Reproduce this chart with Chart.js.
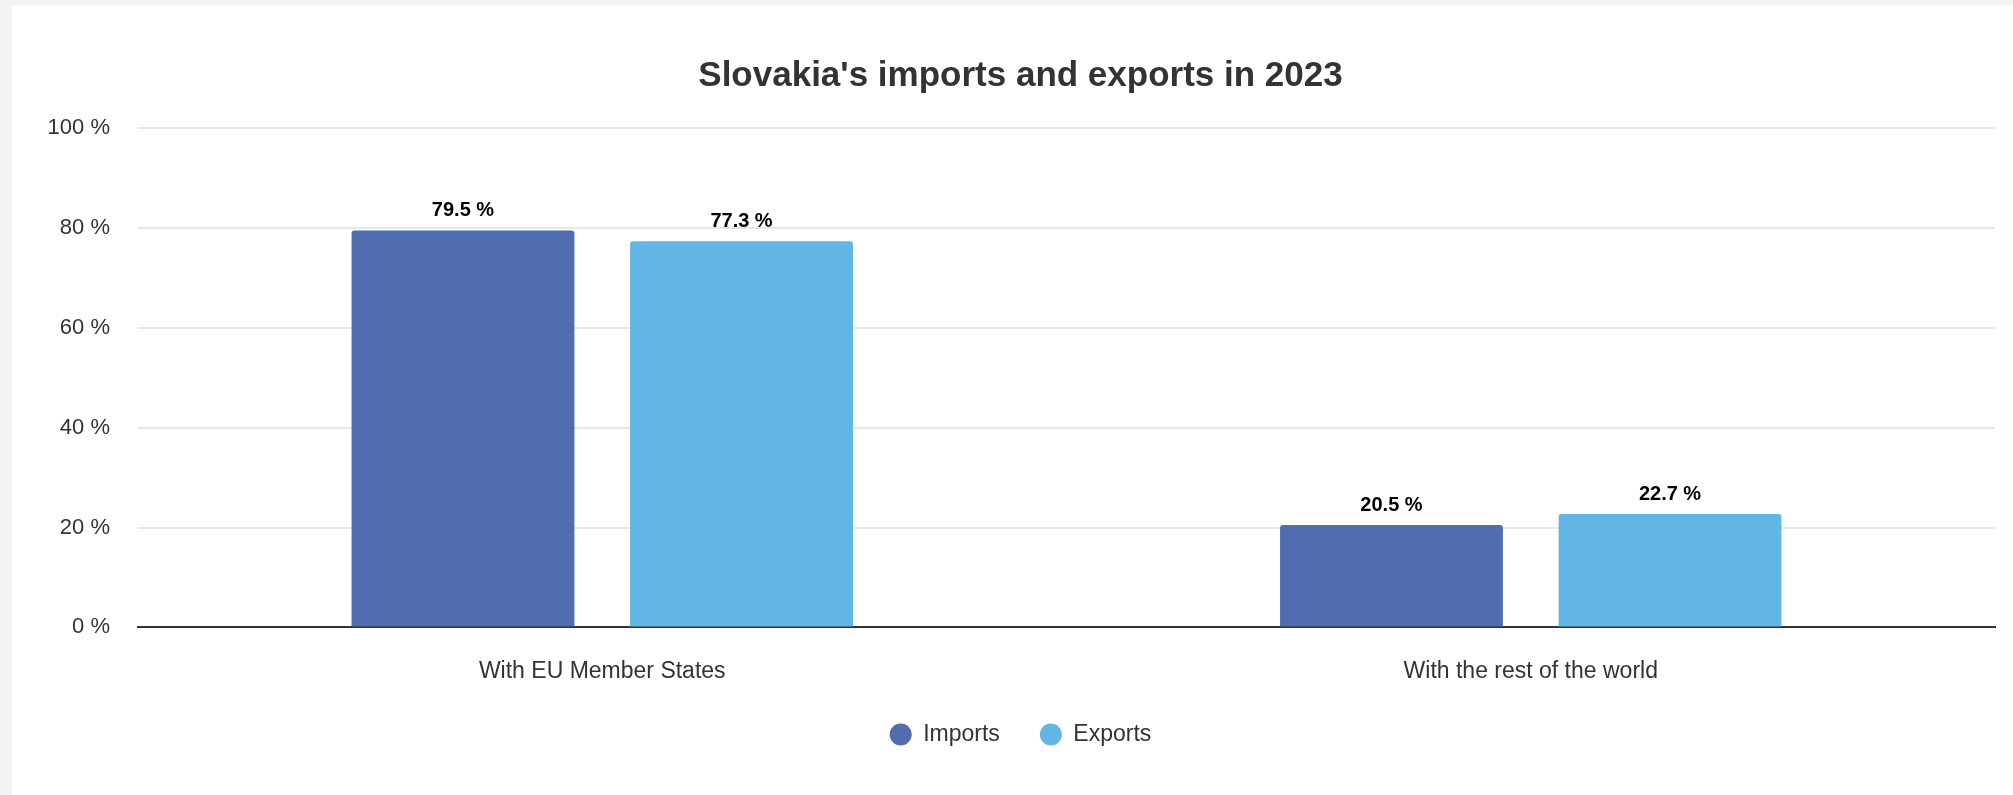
<!DOCTYPE html>
<html>
<head>
<meta charset="utf-8">
<script src="https://cdn.jsdelivr.net/npm/chart.js@4"></script>
<style>
  html, body { margin: 0; padding: 0; background: #f2f2f2; overflow: hidden; }
  .tarjeta { position: absolute; left: 12px; top: 5px; width: 2001px; height: 800px; background: #fff; }
  .lienzo { position: absolute; left: 14px; top: 0; width: 1987px; height: 790px; }
</style>
</head>
<body>
<div class="tarjeta">
  <div class="lienzo"><canvas id="graficoComercio"></canvas></div>
</div>
<script>
const categorias = ['With EU Member States', 'With the rest of the world'];
const importaciones = [79.5, 20.5];
const exportaciones = [77.3, 22.7];
const ticksY = [0, 20, 40, 60, 80, 100];

const fuente = "'Liberation Sans', Arial, Helvetica, sans-serif";

// Etiqueta con el valor encima de cada barra
const etiquetasValor = {
  id: 'etiquetasValor',
  afterDatasetsDraw(chart) {
    const ctx = chart.ctx;
    ctx.save();
    ctx.font = 'bold 20px ' + fuente;
    ctx.fillStyle = '#000';
    ctx.textAlign = 'center';
    ctx.textBaseline = 'alphabetic';
    chart.data.datasets.forEach((ds, i) => {
      chart.getDatasetMeta(i).data.forEach((barra, j) => {
        const v = ds.data[j];
        ctx.fillText(v.toFixed(1) + ' %', barra.x, barra.y - 14);
      });
    });
    ctx.restore();
  }
};

new Chart(document.getElementById('graficoComercio'), {
  type: 'bar',
  data: {
    labels: categorias,
    datasets: [{
      label: 'Imports',
      data: importaciones,
      backgroundColor: '#4f6daf',
      borderRadius: 3,
      categoryPercentage: 0.6,
      barPercentage: 0.8
    }, {
      label: 'Exports',
      data: exportaciones,
      backgroundColor: '#61b6e5',
      borderRadius: 3,
      categoryPercentage: 0.6,
      barPercentage: 0.8
    }]
  },
  options: {
    responsive: true,
    maintainAspectRatio: false,
    animation: false,
    layout: { padding: { left: 20, right: 18, top: 0, bottom: 39 } },
    plugins: {
      title: {
        display: true,
        text: "Slovakia's imports and exports in 2023",
        color: '#333',
        font: { family: fuente, size: 35, weight: 'bold' },
        padding: { top: 50, bottom: 31 }
      },
      legend: {
        position: 'bottom',
        labels: {
          usePointStyle: true,
          pointStyle: 'circle',
          pointStyleWidth: 22,
          boxHeight: 15.6,
          padding: 40,
          color: '#333',
          font: { family: fuente, size: 23 }
        }
      },
      tooltip: { enabled: false }
    },
    scales: {
      x: {
        grid: { display: false },
        border: { display: true, color: '#333', width: 2 },
        ticks: { color: '#333', padding: 22, font: { family: fuente, size: 23 } },
        // la leyenda queda más pegada a las etiquetas del eje
        afterFit: escala => { escala.height -= 24; }
      },
      y: {
        min: 0,
        max: 100,
        afterBuildTicks: escala => { escala.ticks = ticksY.map(v => ({ value: v })); },
        afterFit: escala => { escala.width = 92; },
        grid: { color: '#e8e8e8', lineWidth: 2, drawTicks: false },
        border: { display: false },
        ticks: {
          color: '#333',
          padding: 28,
          font: { family: fuente, size: 22 },
          callback: v => v + ' %'
        }
      }
    }
  },
  plugins: [etiquetasValor]
});
</script>
</body>
</html>
